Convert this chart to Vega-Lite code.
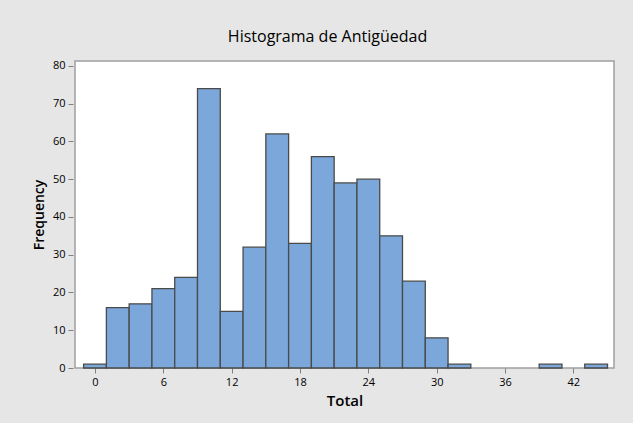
{
  "$schema": "https://vega.github.io/schema/vega-lite/v6.json",
  "autosize": {"type": "none"},
  "width": 539,
  "height": 307,
  "padding": {"left": 75, "top": 61, "right": 19, "bottom": 55},
  "background": "#e6e6e6",
  "title": {
    "text": "Histograma de Antigüedad",
    "anchor": "middle",
    "dx": -17,
    "offset": 15,
    "font": "Open Sans",
    "fontSize": 16,
    "fontWeight": "normal",
    "color": "#000000"
  },
  "data": {
    "values": [
      {"start": -1, "end": 1, "count": 1},
      {"start": 1, "end": 3, "count": 16},
      {"start": 3, "end": 5, "count": 17},
      {"start": 5, "end": 7, "count": 21},
      {"start": 7, "end": 9, "count": 24},
      {"start": 9, "end": 11, "count": 74},
      {"start": 11, "end": 13, "count": 15},
      {"start": 13, "end": 15, "count": 32},
      {"start": 15, "end": 17, "count": 62},
      {"start": 17, "end": 19, "count": 33},
      {"start": 19, "end": 21, "count": 56},
      {"start": 21, "end": 23, "count": 49},
      {"start": 23, "end": 25, "count": 50},
      {"start": 25, "end": 27, "count": 35},
      {"start": 27, "end": 29, "count": 23},
      {"start": 29, "end": 31, "count": 8},
      {"start": 31, "end": 33, "count": 1},
      {"start": 33, "end": 35, "count": 0},
      {"start": 35, "end": 37, "count": 0},
      {"start": 37, "end": 39, "count": 0},
      {"start": 39, "end": 41, "count": 1},
      {"start": 41, "end": 43, "count": 0},
      {"start": 43, "end": 45, "count": 1}
    ]
  },
  "transform": [{"filter": "datum.count > 0"}],
  "mark": {"type": "bar", "fill": "#7ba7da", "stroke": "#4a4a4a", "strokeWidth": 1.3},
  "encoding": {
    "x": {
      "field": "start",
      "type": "quantitative",
      "scale": {"domain": [-1.756, 45.57], "nice": false, "zero": false},
      "axis": {
        "title": "Total",
        "values": [0, 6, 12, 18, 24, 30, 36, 42],
        "grid": false,
        "domain": false,
        "tickSize": 5,
        "tickColor": "#808080",
        "labelPadding": 3,
        "labelFont": "Open Sans",
        "labelFontSize": 11,
        "labelColor": "#000000",
        "titleFont": "Open Sans",
        "titleFontSize": 15,
        "titleFontWeight": 600,
        "titleColor": "#000000",
        "titlePadding": 6
      }
    },
    "x2": {"field": "end"},
    "y": {
      "field": "count",
      "type": "quantitative",
      "scale": {"domain": [0, 81.3], "nice": false},
      "axis": {
        "title": "Frequency",
        "values": [0, 10, 20, 30, 40, 50, 60, 70, 80],
        "grid": false,
        "domain": false,
        "offset": 2,
        "tickSize": 5,
        "tickColor": "#808080",
        "labelPadding": 3,
        "labelFont": "Open Sans",
        "labelFontSize": 11,
        "labelColor": "#000000",
        "titleFont": "Open Sans",
        "titleFontSize": 14,
        "titleFontWeight": 600,
        "titleColor": "#000000",
        "titlePadding": 6
      }
    },
    "y2": {"datum": 0}
  },
  "config": {
    "view": {"fill": "#ffffff", "stroke": "#a0a0a0", "strokeWidth": 1.5}
  }
}
